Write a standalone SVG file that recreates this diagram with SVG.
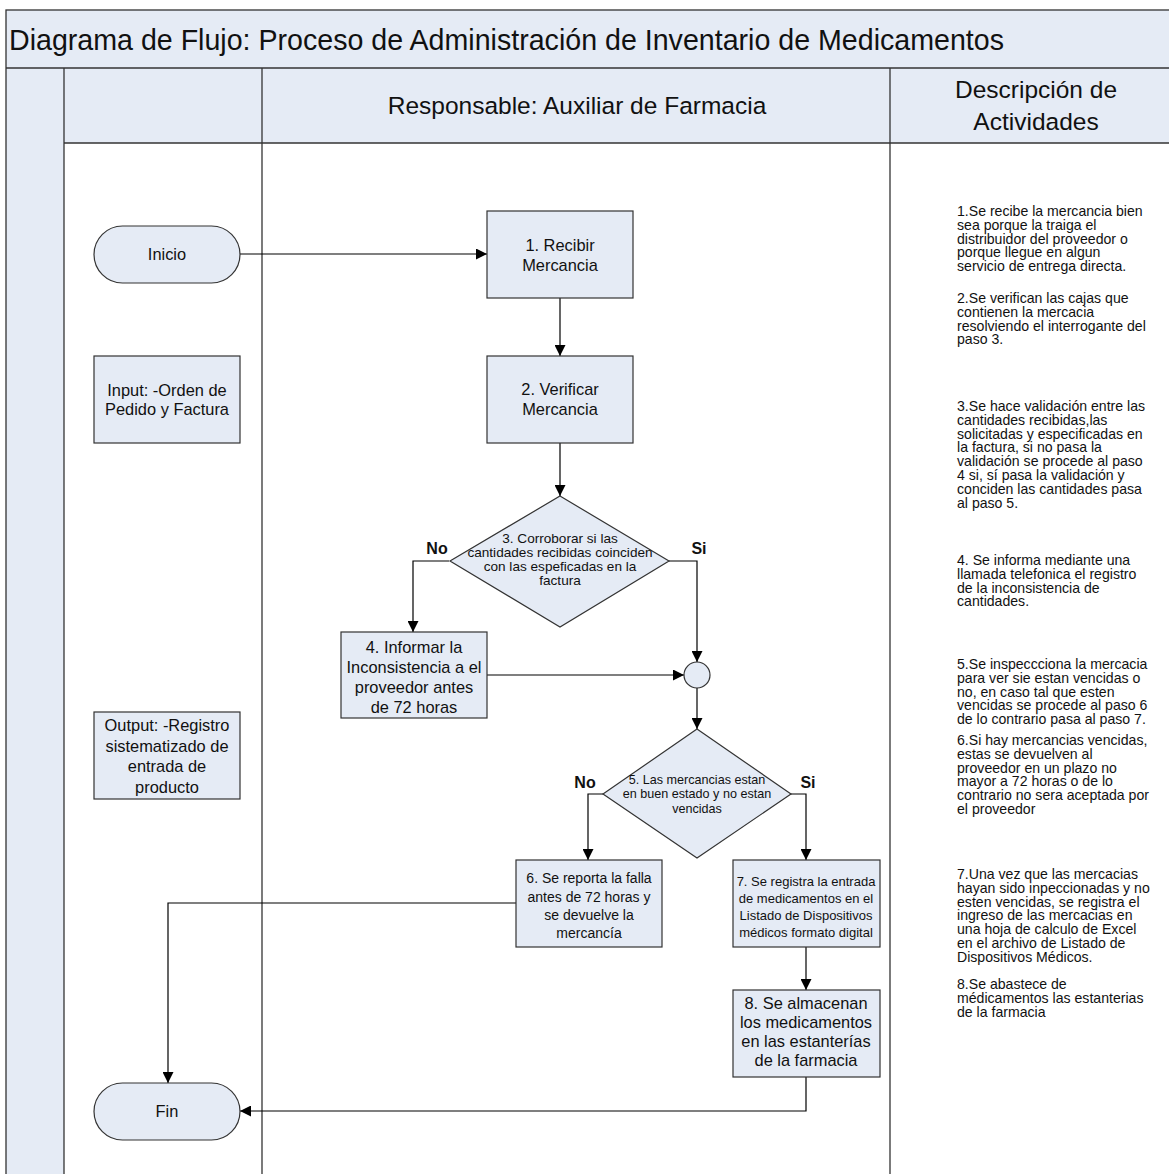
<svg xmlns="http://www.w3.org/2000/svg" width="1169" height="1174" viewBox="0 0 1169 1174">
  <style>
    text { font-family: "Liberation Sans", Arial, sans-serif; fill: #111; }
    .band { fill: #e5ebf5; stroke: none; }
    .rule { stroke: #333; stroke-width: 1.3; fill: none; }
    .shape { fill: #e5ebf5; stroke: #333; stroke-width: 1.2; }
    .t16 { font-size: 16.4px; text-anchor: middle; }
    .t14 { font-size: 14px; text-anchor: middle; }
    .t13 { font-size: 13px; text-anchor: middle; }
    .t13b { font-size: 13.6px; text-anchor: middle; }
    .t12 { font-size: 12.6px; text-anchor: middle; }
    .lbl { font-size: 16px; font-weight: bold; text-anchor: middle; }
    .desc { font-size: 14.1px; }
    .head { font-size: 24.5px; text-anchor: middle; }
    .conn { stroke: #000; stroke-width: 1.2; fill: none; marker-end: url(#arrow); }
  </style>
  <defs>
    <marker id="arrow" viewBox="0 0 10 10" refX="10" refY="5" markerWidth="11" markerHeight="11" markerUnits="userSpaceOnUse" orient="auto">
      <path d="M0,0 L10,5 L0,10 Z" fill="#000"/>
    </marker>
  </defs>

  <!-- swimlane frame -->
  <g id="frame">
    <rect x="0" y="0" width="1169" height="1174" fill="#fff"/>
    <rect class="band" x="6" y="10" width="1170" height="58"/>
    <rect class="band" x="6" y="68" width="1170" height="75"/>
    <rect class="band" x="6" y="68" width="58" height="1110"/>
    <rect class="rule" x="6" y="10" width="1175" height="1175"/>
    <line class="rule" x1="6" y1="68" x2="1169" y2="68"/>
    <line class="rule" x1="64" y1="143" x2="1169" y2="143"/>
    <line class="rule" x1="64" y1="68" x2="64" y2="1174"/>
    <line class="rule" x1="262" y1="68" x2="262" y2="1174"/>
    <line class="rule" x1="890" y1="68" x2="890" y2="1174"/>
    <text x="9" y="50" font-size="28.6">Diagrama de Flujo: Proceso de Administración de Inventario de Medicamentos</text>
    <text class="head" x="577" y="114">Responsable: Auxiliar de Farmacia</text>
    <text class="head" x="1036" y="98">Descripción de</text>
    <text class="head" x="1036" y="130">Actividades</text>
  </g>

  <!-- connectors -->
  <g id="connectors">
    <path class="conn" d="M240,254 H487"/>
    <path class="conn" d="M560,298 V356"/>
    <path class="conn" d="M560,443 V496"/>
    <path class="conn" d="M449,561 H413 V632"/>
    <path class="conn" d="M669,561 H697 V662"/>
    <path class="conn" d="M487,675 H684"/>
    <path class="conn" d="M697,688 V729"/>
    <path class="conn" d="M603,794 H588 V860"/>
    <path class="conn" d="M791,794 H806 V860"/>
    <path class="conn" d="M516,903 H168 V1083"/>
    <path class="conn" d="M806,947 V990"/>
    <path class="conn" d="M806,1077 V1111 H240"/>
    <text class="lbl" x="437" y="554">No</text>
    <text class="lbl" x="699" y="554">Si</text>
    <text class="lbl" x="585" y="788">No</text>
    <text class="lbl" x="808" y="788">Si</text>
  </g>

  <g id="inicio">
    <rect class="shape" x="94" y="226" width="146" height="57" rx="28.5"/>
    <text class="t16" x="167" y="260">Inicio</text>
  </g>
  <g id="recibir">
    <rect class="shape" x="487" y="211" width="146" height="87"/>
    <text class="t16" x="560" y="251">1. Recibir</text>
    <text class="t16" x="560" y="271">Mercancia</text>
  </g>
  <g id="input">
    <rect class="shape" x="94" y="356" width="146" height="87"/>
    <text class="t16" x="167" y="396">Input: -Orden de</text>
    <text class="t16" x="167" y="415">Pedido y Factura</text>
  </g>
  <g id="verificar">
    <rect class="shape" x="487" y="356" width="146" height="87"/>
    <text class="t16" x="560" y="395">2. Verificar</text>
    <text class="t16" x="560" y="415">Mercancia</text>
  </g>
  <g id="corroborar">
    <polygon class="shape" points="560,496 669,561 560,627 450,561"/>
    <text class="t13b" x="560" y="543">3. Corroborar si las</text>
    <text class="t13b" x="560" y="557">cantidades recibidas coinciden</text>
    <text class="t13b" x="560" y="571">con las espeficadas en la</text>
    <text class="t13b" x="560" y="585">factura</text>
  </g>
  <g id="informar">
    <rect class="shape" x="341" y="632" width="146" height="86"/>
    <text class="t16" x="414" y="653">4. Informar la</text>
    <text class="t16" x="414" y="673">Inconsistencia a el</text>
    <text class="t16" x="414" y="693">proveedor antes</text>
    <text class="t16" x="414" y="713">de 72 horas</text>
  </g>
  <g id="union">
    <circle class="shape" cx="697" cy="675" r="13"/>
  </g>
  <g id="output">
    <rect class="shape" x="94" y="712" width="146" height="87"/>
    <text class="t16" x="167" y="731">Output: -Registro</text>
    <text class="t16" x="167" y="752">sistematizado de</text>
    <text class="t16" x="167" y="772">entrada de</text>
    <text class="t16" x="167" y="793">producto</text>
  </g>
  <g id="estado">
    <polygon class="shape" points="697,729 791,794 697,858 603,794"/>
    <text class="t12" x="697" y="784">5. Las mercancias estan</text>
    <text class="t12" x="697" y="798">en buen estado y no estan</text>
    <text class="t12" x="697" y="813">vencidas</text>
  </g>
  <g id="reporta">
    <rect class="shape" x="516" y="860" width="146" height="87"/>
    <text class="t14" x="589" y="883">6. Se reporta la falla</text>
    <text class="t14" x="589" y="902">antes de 72 horas y</text>
    <text class="t14" x="589" y="920">se devuelve la</text>
    <text class="t14" x="589" y="938">mercancía</text>
  </g>
  <g id="registra">
    <rect class="shape" x="733" y="860" width="147" height="87"/>
    <text class="t13" x="806" y="886">7. Se registra la entrada</text>
    <text class="t13" x="806" y="903">de medicamentos en el</text>
    <text class="t13" x="806" y="920">Listado  de Dispositivos</text>
    <text class="t13" x="806" y="937">médicos formato digital</text>
  </g>
  <g id="almacenan">
    <rect class="shape" x="733" y="990" width="147" height="87"/>
    <text class="t16" x="806" y="1009">8. Se almacenan</text>
    <text class="t16" x="806" y="1028">los medicamentos</text>
    <text class="t16" x="806" y="1047">en las estanterías</text>
    <text class="t16" x="806" y="1066">de la farmacia</text>
  </g>
  <g id="fin">
    <rect class="shape" x="94" y="1083" width="146" height="57" rx="28.5"/>
    <text class="t16" x="167" y="1117">Fin</text>
  </g>

  <!-- activity descriptions -->
  <g id="descripcion" class="desc">
    <text x="957" y="216">1.Se recibe la mercancia bien<tspan x="957" dy="13.8">sea porque la traiga el</tspan><tspan x="957" dy="13.8">distribuidor  del proveedor o</tspan><tspan x="957" dy="13.8">porque llegue en algun</tspan><tspan x="957" dy="13.8">servicio de entrega directa.</tspan></text>
    <text x="957" y="303">2.Se verifican las cajas que<tspan x="957" dy="13.8">contienen la mercacia</tspan><tspan x="957" dy="13.8">resolviendo el interrogante del</tspan><tspan x="957" dy="13.8">paso 3.</tspan></text>
    <text x="957" y="411">3.Se hace validación entre las<tspan x="957" dy="13.8">cantidades recibidas,las</tspan><tspan x="957" dy="13.8">solicitadas y especificadas en</tspan><tspan x="957" dy="13.8">la factura, si no pasa la</tspan><tspan x="957" dy="13.8">validación se procede al paso</tspan><tspan x="957" dy="13.8">4 si, sí pasa la validación y</tspan><tspan x="957" dy="13.8">conciden las cantidades pasa</tspan><tspan x="957" dy="13.8">al paso 5.</tspan></text>
    <text x="957" y="565">4. Se informa mediante una<tspan x="957" dy="13.8">llamada telefonica el registro</tspan><tspan x="957" dy="13.8">de la inconsistencia de</tspan><tspan x="957" dy="13.8">cantidades.</tspan></text>
    <text x="957" y="669">5.Se inspeccciona la mercacia<tspan x="957" dy="13.8">para ver sie estan vencidas o</tspan><tspan x="957" dy="13.8">no, en caso tal que esten</tspan><tspan x="957" dy="13.8">vencidas se procede al paso 6</tspan><tspan x="957" dy="13.8">de lo contrario pasa al paso 7.</tspan></text>
    <text x="957" y="745">6.Si hay mercancias vencidas,<tspan x="957" dy="13.8">estas se devuelven al</tspan><tspan x="957" dy="13.8">proveedor en un plazo no</tspan><tspan x="957" dy="13.8">mayor a 72 horas o de lo</tspan><tspan x="957" dy="13.8">contrario no sera aceptada por</tspan><tspan x="957" dy="13.8">el proveedor</tspan></text>
    <text x="957" y="879">7.Una vez que las mercacias<tspan x="957" dy="13.8">hayan sido inpeccionadas y no</tspan><tspan x="957" dy="13.8">esten vencidas, se registra el</tspan><tspan x="957" dy="13.8">ingreso de las mercacias en</tspan><tspan x="957" dy="13.8">una hoja de calculo de Excel</tspan><tspan x="957" dy="13.8">en el archivo de Listado de</tspan><tspan x="957" dy="13.8">Dispositivos Médicos.</tspan></text>
    <text x="957" y="989">8.Se abastece de<tspan x="957" dy="13.8">médicamentos las estanterias</tspan><tspan x="957" dy="13.8">de la farmacia</tspan></text>
  </g>
</svg>
